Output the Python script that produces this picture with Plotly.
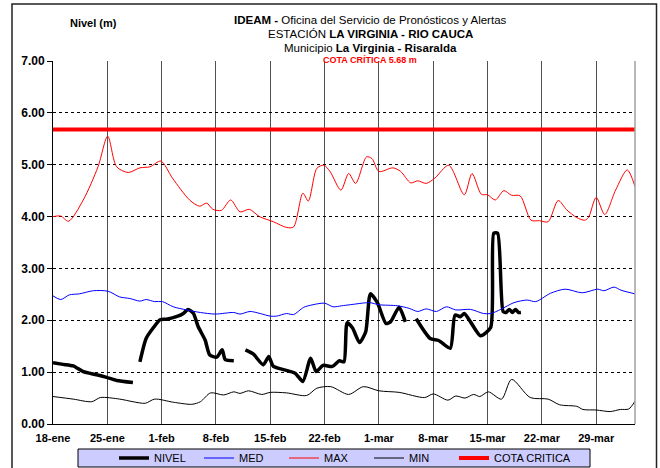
import pandas as pd
import plotly.graph_objects as go

BASE_DATE = "2009-01-18"
RANGE_DAYS = [0, 75]
TICK_DAYS = [0, 7, 14, 21, 28, 35, 42, 49, 56, 63, 70]
TICK_LABELS = ["18-ene", "25-ene", "1-feb", "8-feb", "15-feb", "22-feb",
               "1-mar", "8-mar", "15-mar", "22-mar", "29-mar"]
Y_TICKS = [0, 1, 2, 3, 4, 5, 6, 7]

COTA_CRITICA = 5.68

MAX_DAYS = [0, 1, 2, 3.9, 5.8, 7.05, 8.2, 9.7, 11.2, 12.5, 13.9, 15.4, 17.6, 18.9, 19.8, 20.6,
            21.7, 22.9, 24.1, 25.3, 26.6, 28.4, 30.1, 31.0, 32.2, 32.9, 34.0, 34.9, 35.7, 37.1,
            38.1, 39.0, 40.4, 41.1, 42.0, 43.8, 44.8, 46.1, 47.0, 48.1, 49.2, 51.0, 53.0, 54.0,
            55.2, 56.0, 57.0, 58.1, 59.1, 60.2, 61.6, 62.7, 63.8, 65.1, 66.2, 67.5, 68.5, 69.0,
            70.0, 71.1, 72.5, 74.0, 75.0]
MAX_VALS = [4.00, 4.01, 3.91, 4.32, 4.96, 5.55, 4.96, 4.85, 4.94, 4.96, 5.07, 4.74, 4.32, 4.20,
            4.26, 4.14, 4.12, 4.32, 4.09, 4.14, 4.00, 3.90, 3.79, 3.80, 4.45, 4.30, 4.93, 4.99,
            4.87, 4.51, 4.83, 4.64, 5.15, 5.12, 4.87, 4.94, 4.87, 4.65, 4.69, 4.64, 4.74, 4.99,
            4.42, 4.83, 4.43, 4.42, 4.32, 4.50, 4.41, 4.40, 3.93, 3.92, 3.90, 4.31, 4.13, 3.98,
            3.93, 3.98, 4.37, 4.04, 4.51, 4.90, 4.58]

MED_DAYS = [0, 1, 2.1, 3.4, 5.2, 7.1, 8.6, 9.9, 11.2, 12, 13.1, 14.1, 15.5, 17.2, 19, 20.9,
            23.3, 24.1, 25.4, 26.7, 28, 28.8, 30.1, 31, 32.3, 33.5, 35, 36.1, 37.2, 38.3, 40.8,
            42.0, 44.4, 45.9, 47.0, 48.1, 49.4, 50.7, 51.9, 53.8, 55.5, 56.4, 57.7, 59.4, 61.1,
            62.2, 64.1, 66.0, 68.2, 70.2, 71.0, 72.3, 73.2, 75.0]
MED_VALS = [2.47, 2.40, 2.49, 2.51, 2.57, 2.56, 2.45, 2.42, 2.37, 2.40, 2.36, 2.36, 2.26, 2.20,
            2.15, 2.12, 2.15, 2.12, 2.17, 2.13, 2.08, 2.08, 2.13, 2.11, 2.25, 2.30, 2.33, 2.26,
            2.28, 2.30, 2.34, 2.30, 2.28, 2.23, 2.17, 2.22, 2.17, 2.26, 2.20, 2.21, 2.13, 2.13,
            2.21, 2.34, 2.39, 2.36, 2.52, 2.60, 2.53, 2.60, 2.57, 2.64, 2.58, 2.51]

MIN_DAYS = [0, 2.6, 5, 6.1, 8.6, 10.3, 11.9, 13.1, 15.5, 17.9, 19, 20.3, 22, 23.3, 24.1, 25.2,
            26.9, 28, 30.1, 32.7, 34, 35.8, 38.1, 40.0, 42.0, 44.6, 47.9, 49.0, 50.9, 51.9, 53.1,
            54.2, 55.0, 56.1, 57.8, 59.1, 61.5, 63.8, 65.3, 67.5, 68.3, 70.0, 71.8, 73.1, 74.2,
            75.0]
MIN_VALS = [0.53, 0.48, 0.43, 0.51, 0.48, 0.43, 0.40, 0.48, 0.42, 0.38, 0.43, 0.60, 0.56, 0.62,
            0.59, 0.64, 0.57, 0.61, 0.60, 0.55, 0.69, 0.72, 0.57, 0.72, 0.64, 0.61, 0.51, 0.58,
            0.46, 0.54, 0.50, 0.57, 0.53, 0.62, 0.48, 0.86, 0.51, 0.48, 0.37, 0.34, 0.28, 0.27,
            0.24, 0.28, 0.29, 0.44]

NIVEL_DAYS = [0, 1.3, 2.6, 3.9, 5.6, 6.9, 8.2, 10.3, 10.8,
              11.2, 12, 12.9, 13.8, 14.6, 15.9, 16.8, 17.4, 18.1, 18.7, 19.6, 20.2, 21.1, 21.8,
              22.2, 23.3, 24.0,
              24.8, 25.8, 27.1, 27.8, 28.4, 29.7, 31.2, 32.2, 33.2, 33.9, 34.8, 36.0, 36.9, 37.5,
              37.9, 38.6, 39.5, 40.3, 40.9, 41.8, 42.9, 43.5, 44.6, 45.4, 46.1,
              46.8, 48.6, 49.7, 51.2, 51.8, 52.5, 53.0, 53.8, 55.1, 56.4, 56.8, 57.3, 58.0, 58.4,
              58.8, 59.2, 59.6, 60.0, 60.3]
NIVEL_VALS = [1.18, 1.15, 1.12, 1.01, 0.95, 0.90, 0.84, 0.80, None,
              1.20, 1.65, 1.85, 2.01, 2.02, 2.07, 2.13, 2.21, 2.13, 1.88, 1.62, 1.33, 1.29, 1.43,
              1.24, 1.22, None,
              1.43, 1.35, 1.14, 1.30, 1.11, 1.05, 0.98, 0.82, 1.27, 1.01, 1.13, 1.11, 1.22, 1.20,
              1.95, 1.85, 1.57, 1.78, 2.51, 2.34, 1.94, 1.97, 2.25, 1.97, None,
              2.03, 1.65, 1.61, 1.46, 2.10, 2.07, 2.13, 1.97, 1.70, 1.86, 3.68, 3.68, 2.17, 2.15,
              2.21, 2.15, 2.21, 2.15, 2.15]

base = pd.Timestamp(BASE_DATE)


def to_dates(days):
    return [base + pd.Timedelta(days=d) for d in days]


FONT = "Liberation Sans, Arial, sans-serif"

fig = go.Figure()
fig.add_trace(go.Scatter(x=to_dates(NIVEL_DAYS), y=NIVEL_VALS, name="NIVEL", mode="lines",
                         line=dict(color="black", width=3.5, shape="spline", smoothing=0.6),
                         connectgaps=False))
fig.add_trace(go.Scatter(x=to_dates(MED_DAYS), y=MED_VALS, name="MED", mode="lines",
                         line=dict(color="#0000FF", width=1, shape="spline", smoothing=0.8)))
fig.add_trace(go.Scatter(x=to_dates(MAX_DAYS), y=MAX_VALS, name="MAX", mode="lines",
                         line=dict(color="#FF0000", width=1, shape="spline", smoothing=0.8)))
fig.add_trace(go.Scatter(x=to_dates(MIN_DAYS), y=MIN_VALS, name="MIN", mode="lines",
                         line=dict(color="black", width=1, shape="spline", smoothing=0.8)))
fig.add_trace(go.Scatter(x=to_dates(RANGE_DAYS), y=[COTA_CRITICA, COTA_CRITICA],
                         name="COTA CRITICA", mode="lines",
                         line=dict(color="#FF0000", width=4)))
# empty spacer entry so the last legend label is not clipped
fig.add_trace(go.Scatter(x=[None], y=[None], name=" ", mode="lines",
                         line=dict(color="rgba(0,0,0,0)", width=0), hoverinfo="skip"))

W, H = 660, 468
L, R, T, B = 53, 25, 61, 44
PW, PH = W - L - R, H - T - B


def px(x):
    return (x - L) / PW


def py(y):
    return (H - B - y) / PH


fig.update_layout(
    width=W, height=H,
    margin=dict(l=L, r=R, t=T, b=B, autoexpand=False),
    paper_bgcolor="white", plot_bgcolor="white",
    font=dict(family=FONT, color="black", size=11),
    showlegend=True,
    legend=dict(orientation="h", x=px(114), y=py(458), xanchor="left", yanchor="middle",
                bgcolor="rgba(0,0,0,0)", borderwidth=0,
                font=dict(family=FONT, size=11, color="black"),
                entrywidth=40, entrywidthmode="pixels", itemwidth=30,
                traceorder="normal"),
    xaxis=dict(type="date", range=to_dates(RANGE_DAYS),
               tickvals=to_dates(TICK_DAYS), ticktext=TICK_LABELS,
               tickfont=dict(family=FONT, size=11, weight="bold"),
               showgrid=True, gridcolor="#505050", gridwidth=1,
               showline=True, linecolor="black", linewidth=1,
               ticks="", ticklabelstandoff=4, zeroline=False, automargin=False),
    yaxis=dict(range=[0, 7], tickvals=Y_TICKS, tickformat=".2f",
               tickfont=dict(family=FONT, size=12, weight="bold"),
               showgrid=True, gridcolor="black", gridwidth=1, griddash="dot",
               showline=True, linecolor="black", linewidth=1,
               ticks="outside", ticklen=5, tickcolor="black", zeroline=False, automargin=False),
    shapes=[
        dict(type="rect", xref="paper", yref="paper", x0=px(12), x1=px(656.5), y0=py(470), y1=py(4),
             line=dict(color="#222", width=1.5), fillcolor="rgba(0,0,0,0)", layer="below"),
        dict(type="line", xref="paper", yref="paper", x0=1, x1=1, y0=0, y1=1,
             line=dict(color="#A0A0A0", width=1.5)),
        dict(type="rect", xref="paper", yref="paper", x0=px(78), x1=px(590), y0=py(467), y1=py(449),
             line=dict(color="black", width=1), fillcolor="#CCCCFF", layer="below"),
    ],
    annotations=[
        dict(text="<b>Nivel (m)</b>", xref="paper", yref="paper", x=px(68), y=py(15),
             showarrow=False, font=dict(family=FONT, size=11)),
        dict(text="<b>IDEAM -</b> Oficina del Servicio de Pronósticos y Alertas", xref="paper",
             yref="paper", x=px(370), y=py(12), showarrow=False, font=dict(family=FONT, size=11.5)),
        dict(text="ESTACIÓN <b>LA VIRGINIA - RIO CAUCA</b>", xref="paper",
             yref="paper", x=px(370), y=py(26), showarrow=False, font=dict(family=FONT, size=11.5)),
        dict(text="Municipio <b>La Virginia - Risaralda</b>", xref="paper",
             yref="paper", x=px(370), y=py(40), showarrow=False, font=dict(family=FONT, size=11.5)),
        dict(text="<b>COTA CRÍTICA 5.68 m</b>", xref="paper",
             yref="paper", x=px(370), y=py(53), showarrow=False,
             font=dict(family=FONT, size=9, color="#FF0000")),
    ],
)

fig.write_html("out.html", config={"displayModeBar": False},
               post_script="document.body.style.margin='0';")
